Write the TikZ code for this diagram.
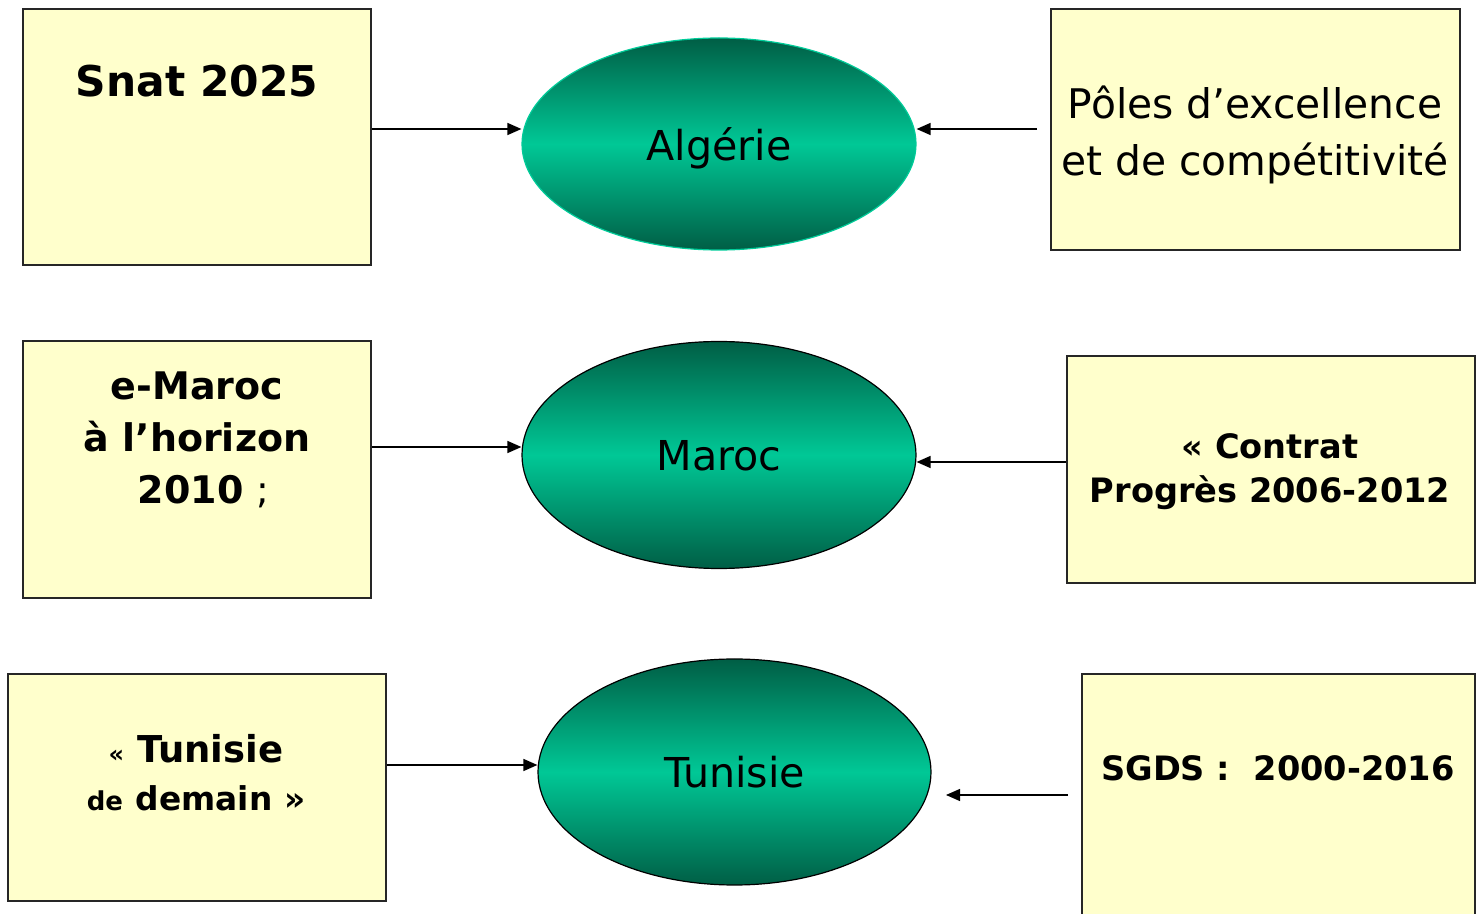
\documentclass[tikz,border=0pt]{standalone}
\usepackage{fontspec}
\setmainfont{DejaVu Sans}
\usetikzlibrary{positioning,shapes.geometric,fit,arrows.meta}
\definecolor{jaune}{HTML}{FFFFCC}
\definecolor{vertclair}{HTML}{00C896}
\definecolor{vertfonce}{HTML}{005E45}
\definecolor{vertbord}{HTML}{00CC99}

\begin{document}
\begin{tikzpicture}[x=0.5pt,y=-0.5pt,
boite/.style={draw=black!85, line width=0.75pt, fill=jaune, inner sep=0pt},
pays/.style={ellipse, draw=black, line width=0.6pt, inner sep=0pt, text depth=0pt, top color=vertfonce, bottom color=vertfonce, middle color=vertclair, font=\fontsize{20.6pt}{24pt}\selectfont},
titre/.style={align=center, inner sep=0pt},
fleche/.style={line width=0.7pt, -{Triangle[length=7pt,width=6pt]}},
]
\useasboundingbox (0,0) rectangle (1480,914);

% les boites
\node[boite, fit={(23,9) (371,265)}] (snat) {};
\node[boite, fit={(1051,9) (1460,250)}] (poles) {};
\node[boite, fit={(23,341) (371,598)}] (emaroc) {};
\node[boite, fit={(1067,356) (1475,583)}] (contrat) {};
\node[boite, fit={(8,674) (386,901)}] (demain) {};
\node[boite, fit={(1082,674) (1475,960)}] (sgds) {};

% les pays
\node[pays, draw=vertbord, minimum width=197pt, minimum height=106pt] (alg) at (719,144) {Algérie};
\node[pays, minimum width=197pt, minimum height=113.5pt] (maroc) at (719,455) {Maroc};
\node[pays, minimum width=196.5pt, minimum height=113pt] (tun) at (734.5,772) {Tunisie};

% les textes
\node[titre, font=\fontsize{21.2pt}{26pt}\selectfont\bfseries] (t-snat) at (197,81) {Snat 2025};
\node[titre, font=\fontsize{20.4pt}{28.5pt}\selectfont] (t-poles) at (1255,135) {Pôles d’excellence\\et de compétitivité};
\node[titre, font=\fontsize{19pt}{26pt}\selectfont\bfseries] (t-emaroc) at (197,440) {e-Maroc\\à l’horizon\\\ 2010 {\mdseries;}};
\node[titre, font=\fontsize{16.8pt}{22pt}\selectfont\bfseries] (t-contrat) at (1270,472) {« Contrat\\Progrès 2006-2012};
\node[titre, font=\fontsize{18.5pt}{24pt}\selectfont\bfseries] (t-demain) at (196,773) {{\fontsize{12pt}{14pt}\selectfont «}\ Tunisie\\{\fontsize{13pt}{14pt}\selectfont de} {\fontsize{16.4pt}{20pt}\selectfont demain »}};
\node[titre, font=\fontsize{16.8pt}{22pt}\selectfont\bfseries] (t-sgds) at (1278,768) {SGDS :\ \ 2000-2016};

\coordinate (d-poles) at (1037,129);
\coordinate (d-sgds) at (1068,795);
\coordinate (f-sgds) at (946,795);

\path[fleche]
([yshift=4pt]snat.east) edge ([yshift=4pt]snat.east -| alg.west)
(d-poles) edge (d-poles -| alg.east)
([yshift=11.25pt]emaroc.east) edge ([yshift=11.25pt]emaroc.east -| maroc.west)
([yshift=3.75pt]contrat.west) edge ([yshift=3.75pt]contrat.west -| maroc.east)
([yshift=11.25pt]demain.east) edge ([yshift=11.25pt]demain.east -| tun.west)
(d-sgds) edge (f-sgds)
;
\end{tikzpicture}
\end{document}
